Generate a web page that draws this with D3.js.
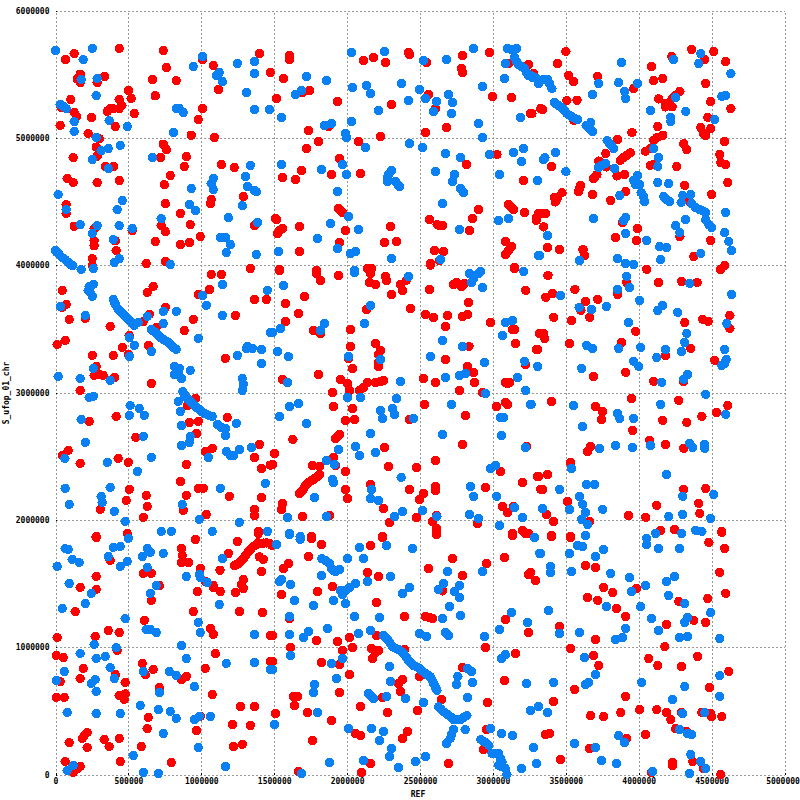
<!DOCTYPE html>
<html><head><meta charset="utf-8">
<script src="https://cdn.jsdelivr.net/npm/d3@7"></script>
<style>html,body{margin:0;padding:0;background:#fff}svg{display:block}text{font-family:"DejaVu Sans Mono","Liberation Mono",monospace;font-size:8px;font-weight:bold;fill:#000}</style>
</head><body><div id="c"></div>
<script>
// [REF, S_ufop_01_chr] positions, in thousands of bases
const unit = 1000;
const xTicks = [0,500000,1000000,1500000,2000000,2500000,3000000,3500000,4000000,4500000,5000000];
const yTicks = [0,1000000,2000000,3000000,4000000,5000000,6000000];
const xLabel = "REF";
const yLabel = "S_ufop_01_chr";
const redPoints = [
[69,5615],[128,5662],[437,5702],[739,5686],[1007,5615],[169,5500],[149,5463],[169,5434],[286,5434],[336,5482],[105,5301],[39,5238],[128,5199],[144,5167],[247,5160],[32,5097],[501,5372],[519,5309],[437,5301],[455,5254],[437,5230],[396,5230],[378,5230],[355,5209],[540,5191],[410,5089],[224,5034],[300,4992],[279,4927],[286,4856],[121,4845],[341,4775],[398,4775],[80,4681],[121,4649],[286,4649],[437,4665],[73,4476],[73,4406],[128,4306],[265,4285],[265,4191],[265,4152],[410,4191],[416,4115],[252,4052],[252,3997],[622,4013],[526,4272],[664,5458],[684,5330],[760,5552],[828,5450],[1082,5568],[1117,5380],[1007,5230],[979,5144],[931,5021],[1089,5003],[739,4950],[760,4908],[721,4845],[897,4853],[883,4775],[1137,4790],[1226,4767],[787,4704],[746,4633],[1068,4516],[1062,4484],[1288,4539],[753,4484],[856,4406],[924,4319],[725,4311],[753,4264],[684,4186],[856,4162],[918,4178],[993,4225],[753,4029],[1336,3974],[1364,4311],[1398,5662],[1473,5513],
[1605,5647],[1605,5615],[1564,5466],[1742,5372],[1694,5356],[1515,5309],[1934,5285],[1735,5058],[1804,4971],[1721,4916],[1872,5089],[1948,4838],[1687,4743],[1557,4688],[1646,4672],[1893,4712],[2092,4720],[1941,4445],[1955,4430],[1968,4414],[1509,4366],[1515,4358],[1557,4288],[1536,4272],[1522,4249],[1673,4304],[1989,4272],[1948,4178],[1673,4107],[2113,5607],[2181,5631],[2264,5592],[2422,5670],[2428,5654],[2545,5592],[2792,5647],[2977,5670],[2785,5545],[2792,5513],[2078,4971],[2229,5010],[2305,5262],[2298,4304],[2257,4178],[2339,4186],[2559,5340],[2607,5230],[2998,5325],[3128,5317],[3259,5191],[2682,5081],[2538,5042],[2820,4790],[3028,4869],[3211,4665],[2902,4437],[2861,4366],[2566,4358],[2618,4319],[2636,4311],[2655,4311],[2840,4272],[3108,4476],[3128,4453],[3142,4437],[3218,4414],[3300,4366],[3314,4406],[3087,4186],[3128,4146],[3108,4115],[3087,4084],[2600,4115],[2662,4107],[2572,4013],[2634,4036],[3149,3982],[2140,3974],[2168,3974],[1536,3966],[1790,3960],[3245,5576],[3108,5584],[3280,5505],[3328,5230],
[3501,5678],[3444,5584],[3520,5490],[3554,5442],[3719,5482],[3966,5387],[4089,5560],[4103,5450],[4165,5466],[4227,5639],[4364,5694],[4515,5678],[4453,5615],[4597,5599],[4460,5427],[4494,5285],[4632,5230],[4474,5160],[4426,5081],[4494,5073],[4446,5034],[4460,5018],[4590,4971],[4556,4869],[4563,4806],[4597,4790],[4611,4649],[4501,4555],[4309,4955],[4330,4908],[4261,4775],[4316,4626],[4350,4500],[4494,4194],[4282,4225],[4378,4068],[4590,3997],[4561,3966],[3993,4288],[3986,4194],[3842,4217],[3890,4335],[3808,4508],[3911,4578],[3684,4555],[3691,4681],[3702,4696],[3714,4712],[3600,4626],[3594,4600],[3588,4578],[3474,4570],[3440,4523],[3421,4531],[3428,4497],[3360,4406],[3325,4406],[3302,4380],[3298,4353],[3348,4301],[3375,4138],[3458,4123],[3618,4123],[3630,4078],[3508,5293],[3577,5296],[3341,5222],[3268,5191],[3554,5138],[3856,4987],[3954,5042],[3774,4877],[3726,4817],[3778,4772],[3403,4775],[3851,4701],[3904,4712],[3874,4824],[3897,4845],[3920,4864],[3943,4882],[4046,4895],[4080,4916],[4103,4982],[4126,5003],[4165,5021],[4131,5089],[4080,4785],[4103,4793],[4137,5306],[4183,5270],[4183,5243],[4229,5243],[4229,5309],[4252,5335],[4282,5364],
[46,3802],[73,3692],[46,3668],[94,3574],[204,3582],[11,3377],[66,3409],[252,3291],[396,3291],[458,3354],[499,3299],[505,3448],[375,3519],[629,3786],[670,3833],[753,3668],[643,3613],[602,3558],[691,3511],[636,3370],[883,3487],[945,3574],[979,3770],[1055,3809],[1068,3927],[1137,3927],[1233,3605],[1364,3731],[1446,3731],[1165,3268],[279,3205],[265,3134],[300,3142],[327,3134],[405,3118],[657,3071],[169,3016],[959,2953],[904,2898],[416,2812],[231,2773],[918,2765],[979,2773],[1178,2804],[966,2678],[551,2647],[46,2506],[87,2545],[430,2482],[169,2443],[499,2451],[897,2435],[1027,2537],[1075,2561],[1398,2592],[1364,2490],[1412,2404],[1473,2430],[856,2301],[979,2247],[1014,2247],[506,2239],[622,2192],[897,2192],[1192,2184],[1412,2176],[485,2152],[629,2105],[307,2082],[876,2074],[1364,2082],[1364,2034],[602,2019],[1034,2042],[492,1893],[279,1870],[1391,1909],
[1536,3959],[1790,3935],[1817,3880],[1941,3919],[2154,3969],[2161,3935],[2154,3864],[2195,3849],[2264,3912],[2270,3880],[2367,3849],[2405,3880],[2380,3802],[2305,3770],[1708,3755],[1577,3700],[1667,3621],[1577,3558],[1769,3487],[1817,3464],[2023,3495],[2133,3652],[2435,3660],[2566,3809],[2730,3849],[2751,3864],[2785,3833],[2806,3857],[2916,3951],[2572,4000],[3149,3974],[3225,3802],[2833,3707],[2538,3613],[2593,3590],[2689,3605],[2792,3597],[2826,3613],[2675,3519],[2984,3550],[3135,3495],[3149,3495],[3156,3385],[3320,3464],[3300,3338],[2836,3362],[2675,3260],[2023,3362],[2010,3268],[2037,3189],[2195,3385],[2229,3330],[2216,3299],[2216,3236],[2216,3205],[1804,3142],[1557,3103],[1955,3103],[2003,3071],[2017,3016],[1900,3000],[1907,2890],[2085,3016],[2113,3040],[2140,3079],[2195,3079],[2229,3087],[2250,3095],[2525,3110],[2607,3079],[2826,3205],[2868,3158],[2875,3079],[2772,3016],[2929,3000],[3087,3079],[3101,3071],[3115,3079],[3225,3220],[2531,2906],[3087,2922],[3101,2906],[3026,2890],[2813,2820],[2428,2788],[2037,2875],[1989,2781],[2051,2788],[1948,2671],[1930,2647],[1920,2639],[1628,2631],[2257,2568],[2792,2592],[1502,2521],[1488,2435],[3231,2576],[1907,2490],[1920,2427],[1763,2427],[1811,2419],[1989,2380],[2284,2419],[2476,2412],[2607,2466],[3053,2380],[3307,2341],[3204,2294],[2950,2254],[2607,2262],[2607,2231],[2161,2278],[2428,2239],[2525,2207],[2497,2160],[1989,2239],[2003,2168],[2250,2089],[3067,2105],[3101,2058],[3142,2105],[3328,2239],
[1673,2207],[1683,2219],[1694,2231],[1705,2252],[1715,2270],[1728,2285],[1742,2299],[1755,2308],[1769,2317],[1783,2329],[1797,2341],[1811,2356],[1694,2027],[1557,2129],[1550,2082],[1879,2034],[2291,1980],[2476,2019],[2895,1972],[2614,2034],[2586,1987],[2614,1932],[2614,1885],[3135,1893],[3204,1917],[3245,1893],[2243,1870],[1756,1870],
[3378,3919],[4055,3967],[4137,3864],[4295,3872],[4400,3864],[3563,3809],[3362,3747],[3410,3778],[3636,3715],[3719,3731],[3856,3770],[3918,3864],[3604,3644],[3664,3590],[3540,3566],[3417,3590],[4439,3574],[4476,3558],[4316,3550],[4625,3605],[4625,3503],[3980,3480],[3348,3464],[3355,3425],[3327,3464],[3526,3385],[3883,3393],[3307,3338],[4357,3346],[4185,3291],[4522,3252],[3691,3126],[3911,3158],[4103,3087],[4307,3087],[3403,2930],[3952,2953],[4275,2938],[4611,2898],[3705,2890],[3753,2851],[3746,2788],[4535,2843],[4165,2781],[4330,2765],[4433,2812],[3959,2702],[4076,2624],[4185,2592],[4309,2561],[3671,2576],[3650,2537],[3533,2451],[3314,2341],[3375,2356],[3341,2239],[4309,2239],[4460,2246],[3513,2144],[4124,2113],[4412,2129],[4419,2050],[3931,2034],[4048,2019],[3369,2042],[3417,1987],[3664,1987],[3403,1878],[3533,1870],[4151,1917],[4247,1924],[4570,1909],
[279,1861],[492,1893],[959,1846],[863,1775],[869,1720],[863,1665],[911,1665],[1185,1736],[1247,1830],[1391,1893],[1391,1820],[993,1618],[1128,1605],[602,1579],[657,1579],[279,1555],[169,1469],[279,1453],[375,1681],[712,1484],[972,1437],[1027,1516],[1082,1484],[1082,1468],[1130,1437],[1233,1429],[1288,1531],[1274,1492],[1288,1461],[1412,1594],[1398,1709],[1425,1689],[657,1367],[135,1280],[945,1280],[1261,1280],[1419,1272],[609,1210],[362,1131],[437,1115],[1062,1147],[1082,1100],[11,1076],[272,1084],[423,974],[1096,950],[5,935],[53,919],[1473,1092],[190,833],[595,872],[670,825],[1027,833],[1473,887],[410,785],[169,754],[616,785],[32,730],[863,746],[897,770],[478,723],[712,683],[5,605],[60,605],[437,620],[478,633],[458,613],[471,589],[1075,628],[1268,534],[1364,534],[636,448],[993,456],[1213,393],[1336,385],[629,361],[966,345],[217,330],[197,306],[183,284],[94,251],[217,212],[334,275],[368,220],[437,283],[588,220],[1220,220],[1281,236],[444,102],[794,94],[66,102],[169,63],[149,47],[121,16],
[1226,1641],[1240,1649],[1254,1657],[1271,1676],[1288,1696],[1305,1722],[1322,1749],[1340,1771],[1357,1793],[1380,1804],[1403,1814],[1426,1817],[1449,1819],[1471,1814],[1483,1801],
[1756,1854],[1824,1806],[2243,1861],[2161,1799],[1735,1712],[1598,1657],[1564,1618],[2140,1587],[2216,1555],[2559,1618],[2724,1696],[2614,1909],[2957,1657],[3080,1704],[3135,1877],[3222,1893],[2792,1563],[3259,1587],[3245,1571],[3293,1524],[1900,1477],[1797,1437],[1550,1414],[2202,1351],[2394,1241],[2538,1241],[2566,1233],[2586,1225],[1605,1225],[2655,1442],[3087,1217],[3245,1115],[1490,1092],[1790,1052],[1934,1045],[2017,1076],[2202,1092],[1612,997],[2037,997],[1968,974],[2168,990],[2216,974],[2195,958],[2175,911],[2394,982],[2950,997],[3156,950],[1488,888],[1824,880],[1948,864],[2017,785],[2497,770],[2792,840],[3080,738],[2380,746],[2353,715],[2367,652],[1948,644],[1632,613],[1660,613],[1639,542],[2243,605],[2648,589],[2964,565],[2092,534],[2483,503],[2277,487],[1728,487],[1509,479],[1893,424],[2058,322],[2092,306],[2415,338],[2380,283],[1763,267],[2957,353],[2936,196],[2161,86],[2696,86],[1667,24],[2099,16],
[3403,1869],[3533,1861],[4570,1901],[4481,1822],[4590,1775],[3636,1641],[3705,1626],[3257,1587],[3293,1524],[4556,1587],[3760,1469],[3822,1429],[3650,1390],[3719,1367],[3986,1461],[4597,1422],[4275,1359],[4474,1382],[3849,1304],[3911,1241],[4378,1210],[4460,1194],[4192,1178],[3458,1162],[3705,1060],[3533,990],[4179,1005],[3691,935],[4069,911],[4405,927],[3726,856],[4131,856],[4295,848],[4618,809],[4487,683],[3561,668],[3911,613],[3417,573],[4007,510],[4124,510],[3671,463],[3760,455],[3877,487],[4192,487],[4220,432],[4295,487],[4433,487],[4494,479],[4501,455],[4570,455],[4254,361],[4330,338],[3362,314],[3389,322],[4048,314],[3918,283],[3664,204],[3465,118],[4233,94],[4233,71],[4371,102],[4446,47],[4089,16],[4563,0]
];
const bluePoints = [
[0,5686],[252,5702],[190,5615],[176,5458],[286,5466],[279,5332],[32,5262],[53,5246],[73,5230],[128,5128],[128,5050],[368,5136],[492,5089],[279,5003],[444,4940],[362,4916],[313,4900],[252,4830],[362,4759],[664,4845],[18,4555],[458,4508],[423,4437],[73,4437],[169,4319],[286,4311],[252,4249],[437,4311],[526,4288],[396,4201],[0,4115],[11,4099],[25,4084],[46,4060],[66,4044],[87,4021],[103,4005],[117,3997],[176,3966],[259,3974],[437,4052],[403,4021],[787,4005],[945,5560],[1007,5639],[1123,5513],[1103,5490],[1144,5442],[1247,5584],[1364,5599],[1364,5505],[1309,5356],[828,5230],[849,5230],[876,5199],[1364,5222],[1467,5222],[808,5042],[1336,4783],[1082,4681],[1068,4641],[1082,4594],[1302,4696],[1316,4618],[1364,4586],[1377,4578],[931,4602],[918,4476],[959,4429],[1281,4468],[725,4366],[1185,4374],[1384,4335],[1130,4217],[1165,4217],[1199,4162],[1171,4099],[1377,4084],
[1721,5482],[1859,5450],[1687,5372],[1646,5340],[1550,5160],[2030,5670],[2257,5678],[2037,5395],[2133,5411],[2161,5348],[2373,5427],[2422,5293],[2216,5215],[2030,5128],[1845,5097],[1893,5113],[1989,5034],[1996,5003],[2126,4924],[2428,4955],[2518,4924],[1550,4790],[1824,4751],[1968,4790],[1996,4712],[2305,4743],[2284,4712],[2277,4688],[2277,4657],[2332,4657],[2353,4626],[2360,4618],[1934,4578],[1886,4327],[2010,4382],[2078,4280],[1797,4209],[1934,4131],[1529,4107],[2023,4092],[2058,4107],[2305,4052],[2051,3960],[2525,5607],[2497,5380],[2538,5309],[2614,5285],[2593,5207],[2696,5340],[2724,5277],[2717,5191],[2682,5615],[2868,5702],[2929,5403],[3080,5466],[3087,5584],[2902,5113],[2929,5003],[3190,5160],[2675,4877],[2778,4845],[2977,4869],[3142,4885],[3211,4916],[3197,4814],[2607,4735],[2737,4712],[2724,4657],[2778,4602],[2799,4570],[3046,4712],[3307,4665],[2655,4484],[3039,4351],[3108,4366],[2772,4280],[2641,4044],[3314,4076],
[3101,5702],[3128,5694],[3163,5702],[3149,5631],[3163,5599],[3177,5576],[3197,5560],[3218,5545],[3231,5513],[3245,5490],[3273,5474],[3300,5466],[3314,5427],[3257,5492],[3279,5479],[3307,5453],[3348,5458],[3375,5458],[3389,5427],[3405,5387],[3421,5277],[3436,5265],[3451,5254],[3465,5242],[3478,5230],[3493,5210],[3508,5191],[3524,5179],[3540,5167],[3560,5155],[3581,5144],[3671,5120],[3639,5097],[3664,5073],[3684,5050],[3783,4979],[3795,4963],[3806,4948],[3818,4932],[3829,4916],[3883,5592],[3726,5427],[3863,5434],[3993,5427],[3904,5364],[3911,5309],[3684,5340],[3691,4366],[4082,5215],[4323,5207],[4220,5160],[4220,5128],[4254,5317],[4240,5615],[4426,5662],[4412,5584],[4632,5505],[4570,5325],[4597,5332],[4522,5144],[3430,4885],[3357,4845],[3348,4830],[3501,4735],[3307,4665],[3725,4767],[3746,4783],[3774,4798],[3835,4759],[4103,4916],[4137,4845],[4131,4775],[4131,4649],[4206,4641],[3870,4547],[3993,4704],[3966,4665],[3977,4633],[4007,4633],[4016,4570],[4034,4537],[4041,4500],[4172,4539],[4190,4516],[4213,4500],[4302,4547],[4291,4492],[4357,4555],[4364,4484],[4389,4453],[4419,4437],[4440,4425],[4460,4414],[4460,4358],[4481,4319],[4501,4296],[4320,4358],[4254,4311],[4282,4256],[3911,4374],[3897,4351],[3911,4249],[4055,4194],[3375,4233],[3321,4076],[3595,4036],[3856,4052],[3911,4013],[3966,4005],[4144,4146],[4192,4138],[4151,4044],[4597,4414],[4590,4256],[4618,4186],[4638,4115],[4426,4092],
[1453,3802],[1146,3849],[1007,3762],[1034,3684],[1144,3605],[1473,3472],[979,3425],[231,3833],[259,3849],[224,3802],[238,3786],[252,3755],[34,3676],[204,3605],[739,3637],[828,3637],[629,3597],[739,3542],[396,3731],[403,3712],[410,3692],[430,3652],[444,3636],[458,3621],[472,3605],[485,3590],[498,3574],[512,3558],[526,3542],[540,3527],[567,3550],[657,3495],[670,3484],[684,3472],[698,3456],[711,3440],[725,3428],[739,3417],[756,3405],[773,3393],[786,3378],[800,3362],[814,3350],[828,3338],[506,3432],[540,3370],[657,3322],[506,3283],[259,3189],[18,3126],[169,3110],[375,3095],[231,2961],[259,2969],[512,2898],[574,2875],[506,2820],[609,2820],[176,2788],[602,2655],[204,2608],[64,2482],[355,2451],[657,2490],[561,2380],[815,3205],[849,3189],[815,3142],[842,3142],[863,3110],[924,3173],[874,3008],[888,2977],[903,2957],[918,2938],[935,2918],[952,2898],[969,2882],[986,2867],[1003,2851],[1021,2835],[1048,2823],[1075,2812],[842,2930],[856,2851],[863,2741],[1110,2749],[1137,2726],[1165,2718],[1165,2663],[1240,2757],[924,2655],[918,2608],[863,2584],[1048,2490],[1171,2537],[1199,2506],[1220,2506],[1261,2553],[1343,2568],[1247,3291],[1316,3362],[1309,3346],[1350,3346],[1412,3338],[1412,3228],[1281,3110],[1288,3063],[1281,3016],[1439,2286],[1130,2247],[66,2247],[375,2254],[313,2184],[320,2136],[94,2121],[403,2066],[478,1987],[869,2121],[986,2003],[1261,1980],[1075,1909],[725,1909],[794,1909],[1453,1909],
[2051,3943],[2422,3912],[1564,3841],[3211,3951],[2840,3935],[2868,3896],[2854,3864],[2902,3935],[2916,3951],[2929,3825],[2161,3684],[2120,3542],[1845,3542],[1817,3487],[1543,3503],[1488,3472],[3087,3550],[3135,3566],[3067,3448],[2655,3409],[2792,3362],[1522,3322],[1598,3281],[2010,3283],[2229,3260],[2572,3283],[2943,3236],[3218,3244],[3307,3205],[3170,3118],[2772,3134],[2813,3150],[2675,3118],[1591,3079],[2367,3087],[2950,2993],[3225,3016],[2003,2961],[2092,2961],[2339,2953],[1666,2914],[1605,2890],[2717,2906],[3259,2906],[2229,2859],[2243,2796],[2312,2875],[2325,2828],[2456,2796],[3053,2804],[3074,2804],[1536,2812],[1721,2757],[2161,2678],[2655,2671],[3060,2663],[1941,2553],[2058,2576],[2085,2506],[2195,2529],[3225,2568],[1859,2466],[1914,2435],[3019,2427],[2984,2404],[2371,2333],[1900,2317],[1907,2294],[2847,2262],[2168,2239],[2161,2168],[2216,2152],[1776,2176],[2868,2184],[3026,2184],[2518,2074],[2380,2066],[2325,2026],[2840,2042],[2902,2011],[3149,2097],[3204,2019],[3046,1956],[2616,2026],[1859,2026],[1591,2019],[1605,1893],[1678,1870],
[3465,3762],[4638,3770],[3918,3912],[3938,3825],[3856,3809],[4350,3857],[4007,3723],[3591,3668],[3677,3652],[3778,3676],[4165,3684],[4131,3644],[4268,3629],[3931,3550],[4604,3542],[4330,3464],[4316,3393],[4295,3322],[4185,3338],[4124,3275],[4014,3354],[3863,3346],[3643,3370],[3684,3346],[4590,3338],[3966,3244],[4000,3205],[4600,3260],[4590,3228],[4570,3212],[3609,3189],[3307,3205],[4336,3142],[4309,3103],[4158,3079],[4460,2985],[3263,2906],[3554,2898],[4151,2906],[3856,2835],[3870,2796],[3966,2796],[4597,2828],[3616,2733],[3732,2561],[3842,2584],[3959,2568],[4082,2584],[4350,2600],[4371,2568],[4453,2592],[4453,2561],[3540,2404],[4192,2356],[3643,2278],[3698,2278],[3458,2239],[4302,2184],[4515,2199],[3595,2184],[3616,2121],[3636,2058],[3609,2003],[3650,1964],[3753,2082],[3526,2082],[3341,2089],[4206,2026],[4302,2042],[4494,2011],[4117,1893],[4295,1893],[4391,1917],[4433,1909],[3636,1878],
[499,1854],[66,1775],[87,1767],[396,1783],[444,1791],[629,1775],[650,1744],[595,1712],[739,1736],[1144,1696],[114,1689],[162,1665],[362,1712],[492,1673],[444,1634],[11,1634],[629,1626],[897,1555],[986,1571],[993,1547],[1041,1508],[94,1500],[691,1484],[650,1422],[245,1422],[204,1343],[46,1304],[1123,1335],[478,1225],[979,1194],[993,1115],[622,1139],[650,1139],[691,1115],[1364,1100],[265,1021],[416,997],[863,1013],[169,950],[279,911],[341,927],[897,911],[1171,872],[1364,880],[60,809],[375,840],[602,809],[780,809],[828,778],[1473,825],[403,754],[5,738],[245,715],[272,746],[952,691],[279,652],[712,644],[581,542],[80,487],[279,479],[444,479],[705,510],[787,495],[828,440],[952,432],[986,456],[1062,456],[739,322],[979,212],[533,149],[121,71],[80,31],[1165,63],[602,16],[705,8],
[1605,1885],[1678,1846],[2085,1783],[2270,1799],[2449,1775],[1515,1806],[2003,1696],[2113,1696],[1827,1696],[1852,1681],[1879,1657],[1893,1618],[1920,1594],[1948,1610],[1905,1600],[2689,1594],[2929,1594],[3321,1736],[2298,1555],[1824,1563],[1550,1532],[1536,1516],[1612,1492],[2140,1516],[2058,1500],[2017,1469],[1989,1445],[1955,1445],[1968,1414],[2428,1469],[2380,1422],[2662,1500],[2627,1453],[2772,1484],[2737,1437],[2772,1390],[1639,1367],[1907,1367],[1769,1327],[1989,1343],[2703,1319],[2051,1241],[2222,1233],[2655,1225],[2778,1249],[1605,1241],[3129,1272],[3238,1194],[3046,1139],[1866,1147],[1735,1123],[1701,1076],[1605,1100],[2078,1107],[2161,1131],
[2497,1107],[2545,1084],[2675,1115],[2696,1092],[2943,1084],[2250,1092],[2263,1076],[2277,1060],[2295,1032],[2312,1005],[2332,993],[2353,982],[2370,966],[2387,950],[2405,922],[2422,895],[2439,875],[2456,856],[2477,845],[2497,833],[2516,813],[2536,793],[2553,780],[2570,767],[2582,741],[2593,715],[2605,688],[2616,662],[2627,531],[2645,511],[2662,492],[2679,479],[2696,466],[2713,449],[2730,432],[2753,432],[2776,432],[2799,447],[2822,463],[2810,353],[2730,353],[2718,318],[2707,283],[2682,243],[1612,935],[1968,911],[1893,872],[1488,825],[3085,942],[3060,911],[2291,848],[1927,754],[2760,770],[2751,707],[2861,723],[1776,707],[1769,644],[3231,715],[2298,730],[2147,636],[2164,616],[2181,597],[2270,613],[2401,597],[2826,605],[2525,565],[3259,503],[3314,534],[1797,487],[1502,393],[2010,361],[2168,361],[2250,338],[2222,267],[2827,832],[2854,809],[2984,361],[3060,322],[3135,306],[2305,204],[2291,141],[2538,141],[2470,102],[2113,110],[2353,55],[1879,94],[1687,8],[3279,212],[3298,86],[3197,47],
[2918,275],[2933,263],[2948,251],[2971,230],[2994,165],[3017,165],[3039,165],[3051,126],[3062,100],[3039,73],[3062,60],[3085,47],[3096,0],
[3286,1861],[3636,1877],[4055,1854],[4055,1806],[4117,1893],[4137,1775],[4281,1775],[3581,1799],[3616,1791],[3526,1736],[3760,1767],[3327,1736],[3705,1712],[3396,1634],[3396,1586],[3540,1594],[3808,1579],[3938,1547],[4247,1555],[4192,1516],[4048,1484],[3952,1437],[4206,1406],[4316,1343],[3780,1319],[4014,1319],[4494,1272],[3382,1288],[4089,1225],[4336,1233],[4316,1194],[3911,1147],[4137,1131],[3595,1115],[3458,1107],[3842,1060],[3890,1076],[4281,1076],[4336,1084],[4556,1068],[3629,919],[3705,785],[3657,723],[3636,707],[3417,723],[4021,723],[4556,777],[4316,691],[4556,613],[4233,589],[3314,534],[3257,503],[3375,487],[4302,479],[4453,487],[4281,353],[4336,322],[4364,314],[3863,306],[3904,251],[3561,243],[3705,212],[4357,157],[3746,110],[3849,86],[4426,102],[4460,47],[4096,24],[4350,8]
];

const width = 800, height = 800;
const plotLeft = 55.5, plotRight = 784.5, plotTop = 10.5, plotBottom = 774.5;
const x = d3.scaleLinear().domain([0,5000000]).range([plotLeft,plotRight]);
const y = d3.scaleLinear().domain([0,6000000]).range([plotBottom,plotTop]);
const svg = d3.select("#c").append("svg").attr("width",width).attr("height",height);

const gx = svg.append("g").attr("transform",`translate(0,${plotBottom})`)
  .call(d3.axisBottom(x).tickValues(xTicks).tickFormat(d3.format("d")).tickSize(-(plotBottom-plotTop)).tickPadding(4));
const gy = svg.append("g").attr("transform",`translate(${plotLeft},0)`)
  .call(d3.axisLeft(y).tickValues(yTicks).tickFormat(d3.format("d")).tickSize(-(plotRight-plotLeft)).tickPadding(6));
[gx,gy].forEach(g=>{
  g.select(".domain").remove();
  g.selectAll("line").attr("stroke","#999").attr("stroke-dasharray","2,2").attr("shape-rendering","crispEdges");
  g.selectAll("text").style("font-size","8px").style("font-family",'"DejaVu Sans Mono","Liberation Mono",monospace').style("font-weight","bold");
});
// last x label sits against the page edge
gx.selectAll(".tick").filter(d=>d===xTicks[xTicks.length-1]).select("text").attr("dx",-2);
// short black tick marks at the axis ends
gx.selectAll(".tick").append("path").attr("d","M0,0v-1.5").attr("stroke","#000").attr("shape-rendering","crispEdges");
gy.selectAll(".tick").append("path").attr("d","M0,0h1.5").attr("stroke","#000").attr("shape-rendering","crispEdges");

const draw = (pts,color)=>svg.append("g").selectAll("circle").data(pts).join("circle")
  .attr("cx",d=>x(d[0]*unit)).attr("cy",d=>y(d[1]*unit)).attr("r",4.7)
  .attr("fill",color).attr("shape-rendering","crispEdges");
draw(redPoints,"#ff0000");
draw(bluePoints,"#0a80f5");

svg.append("text").attr("x",418).attr("y",797).attr("text-anchor","middle").text(xLabel);
svg.append("text").attr("transform",`translate(9,393) rotate(-90)`).attr("text-anchor","middle").text(yLabel);
</script></body></html>
